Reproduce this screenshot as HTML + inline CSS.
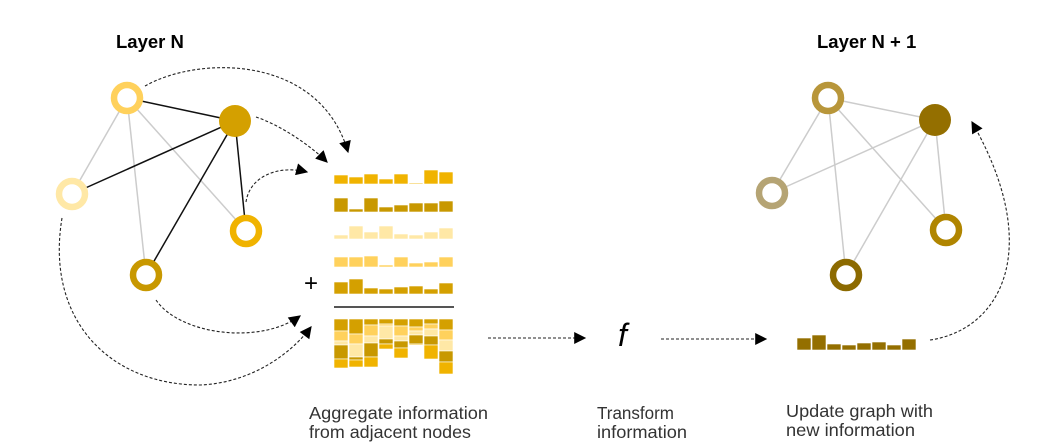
<!DOCTYPE html>
<html><head><meta charset="utf-8"><style>
html,body{margin:0;padding:0;background:#fff;}
svg{display:block;}
text{font-family:"Liberation Sans",sans-serif;}
</style></head><body>
<svg width="1055" height="447" viewBox="0 0 1055 447" xmlns="http://www.w3.org/2000/svg">
<defs>
<marker id="ah" viewBox="0 0 10 10" refX="9" refY="5" markerWidth="13" markerHeight="12" markerUnits="userSpaceOnUse" orient="auto">
<path d="M0,0 L10,5 L0,10 z" fill="#000"/></marker>
</defs>
<text x="116" y="48" font-size="18.5" font-weight="bold">Layer N</text>
<text x="817" y="48" font-size="18.5" font-weight="bold">Layer N + 1</text>

<g stroke="#ccc" stroke-width="1.5">
<line x1="127" y1="98" x2="72" y2="194"/>
<line x1="127" y1="98" x2="146" y2="275"/>
<line x1="127" y1="98" x2="246" y2="231"/>
</g>
<g stroke="#111" stroke-width="1.5">
<line x1="127" y1="98" x2="235" y2="121"/>
<line x1="235" y1="121" x2="72" y2="194"/>
<line x1="235" y1="121" x2="146" y2="275"/>
<line x1="235" y1="121" x2="246" y2="231"/>
</g>
<circle cx="127" cy="98" r="13" fill="#fff" stroke="#FFD15C" stroke-width="6.5"/>
<circle cx="235" cy="121" r="16" fill="#D4A000"/>
<circle cx="72" cy="194" r="13" fill="#fff" stroke="#FFE8A6" stroke-width="6.5"/>
<circle cx="246" cy="231" r="13" fill="#fff" stroke="#F0B300" stroke-width="6.5"/>
<circle cx="146" cy="275" r="13" fill="#fff" stroke="#C89800" stroke-width="6.5"/>

<g fill="none" stroke="#222" stroke-width="1.1" stroke-dasharray="3,2" marker-end="url(#ah)">
<path d="M145,86 C200,55 320,55 348,152"/>
<path d="M256,117 C280,125 310,145 327,162"/>
<path d="M246,202 C250,175 280,165 307,172"/>
<path d="M156,300 C180,335 260,345 300,316"/>
<path d="M62,218 C45,320 110,385 200,385 C250,383 290,355 311,327"/>
<path d="M488,338 L585,338"/>
<path d="M661,339 L766,339"/>
<path d="M930,340 C1000,330 1045,250 972,122"/>
</g>

<g stroke="#fff" stroke-width="0.6">
<g fill="#F0B300">
<rect x="334" y="175" width="14" height="9"/><rect x="349" y="177" width="14" height="7"/><rect x="364" y="174" width="14" height="10"/><rect x="379" y="179" width="14" height="5"/><rect x="394" y="174" width="14" height="10"/><rect x="409" y="183" width="14" height="1"/><rect x="424" y="170" width="14" height="14"/><rect x="439" y="172" width="14" height="12"/>
</g>
<g fill="#C89800">
<rect x="334" y="198" width="14" height="14"/><rect x="349" y="209" width="14" height="3"/><rect x="364" y="198" width="14" height="14"/><rect x="379" y="207" width="14" height="5"/><rect x="394" y="205" width="14" height="7"/><rect x="409" y="203" width="14" height="9"/><rect x="424" y="203" width="14" height="9"/><rect x="439" y="201" width="14" height="11"/>
</g>
<g fill="#FFE8A6">
<rect x="334" y="235" width="14" height="4"/><rect x="349" y="226" width="14" height="13"/><rect x="364" y="232" width="14" height="7"/><rect x="379" y="226" width="14" height="13"/><rect x="394" y="234" width="14" height="5"/><rect x="409" y="235" width="14" height="4"/><rect x="424" y="232" width="14" height="7"/><rect x="439" y="228" width="14" height="11"/>
</g>
<g fill="#FFD15C">
<rect x="334" y="257" width="14" height="10"/><rect x="349" y="257" width="14" height="10"/><rect x="364" y="256" width="14" height="11"/><rect x="379" y="265" width="14" height="2"/><rect x="394" y="257" width="14" height="10"/><rect x="409" y="263" width="14" height="4"/><rect x="424" y="262" width="14" height="5"/><rect x="439" y="257" width="14" height="10"/>
</g>
<g fill="#D4A000">
<rect x="334" y="282" width="14" height="12"/><rect x="349" y="279" width="14" height="15"/><rect x="364" y="288" width="14" height="6"/><rect x="379" y="289" width="14" height="5"/><rect x="394" y="287" width="14" height="7"/><rect x="409" y="286" width="14" height="8"/><rect x="424" y="289" width="14" height="5"/><rect x="439" y="283" width="14" height="11"/>
</g>
</g>
<text x="304" y="291" font-size="24" font-family="Liberation Serif">+</text>
<line x1="334" y1="307" x2="454" y2="307" stroke="#555" stroke-width="2"/>

<g stroke="#fff" stroke-width="0.6">
<rect x="334" y="319" width="14" height="12" fill="#D4A000"/><rect x="334" y="331" width="14" height="10" fill="#FFD15C"/><rect x="334" y="341" width="14" height="4" fill="#FFE8A6"/><rect x="334" y="345" width="14" height="14" fill="#C89800"/><rect x="334" y="359" width="14" height="9" fill="#F0B300"/>
<rect x="349" y="319" width="14" height="15" fill="#D4A000"/><rect x="349" y="334" width="14" height="10" fill="#FFD15C"/><rect x="349" y="344" width="14" height="13" fill="#FFE8A6"/><rect x="349" y="357" width="14" height="3" fill="#C89800"/><rect x="349" y="360" width="14" height="7" fill="#F0B300"/>
<rect x="364" y="319" width="14" height="6" fill="#D4A000"/><rect x="364" y="325" width="14" height="11" fill="#FFD15C"/><rect x="364" y="336" width="14" height="7" fill="#FFE8A6"/><rect x="364" y="343" width="14" height="14" fill="#C89800"/><rect x="364" y="357" width="14" height="10" fill="#F0B300"/>
<rect x="379" y="319" width="14" height="5" fill="#D4A000"/><rect x="379" y="324" width="14" height="2" fill="#FFD15C"/><rect x="379" y="326" width="14" height="13" fill="#FFE8A6"/><rect x="379" y="339" width="14" height="5" fill="#C89800"/><rect x="379" y="344" width="14" height="5" fill="#F0B300"/>
<rect x="394" y="319" width="14" height="7" fill="#D4A000"/><rect x="394" y="326" width="14" height="10" fill="#FFD15C"/><rect x="394" y="336" width="14" height="5" fill="#FFE8A6"/><rect x="394" y="341" width="14" height="7" fill="#C89800"/><rect x="394" y="348" width="14" height="10" fill="#F0B300"/>
<rect x="409" y="319" width="14" height="8" fill="#D4A000"/><rect x="409" y="327" width="14" height="4" fill="#FFD15C"/><rect x="409" y="331" width="14" height="4" fill="#FFE8A6"/><rect x="409" y="335" width="14" height="9" fill="#C89800"/><rect x="409" y="344" width="14" height="1" fill="#F0B300"/>
<rect x="424" y="319" width="14" height="5" fill="#D4A000"/><rect x="424" y="324" width="14" height="5" fill="#FFD15C"/><rect x="424" y="329" width="14" height="7" fill="#FFE8A6"/><rect x="424" y="336" width="14" height="9" fill="#C89800"/><rect x="424" y="345" width="14" height="14" fill="#F0B300"/>
<rect x="439" y="319" width="14" height="11" fill="#D4A000"/><rect x="439" y="330" width="14" height="10" fill="#FFD15C"/><rect x="439" y="340" width="14" height="11" fill="#FFE8A6"/><rect x="439" y="351" width="14" height="11" fill="#C89800"/><rect x="439" y="362" width="14" height="12" fill="#F0B300"/>
</g>

<text x="618" y="346" font-size="32" font-style="italic" font-family="Liberation Serif">f</text>

<g stroke="#ccc" stroke-width="1.5">
<line x1="828" y1="98" x2="772" y2="193"/>
<line x1="828" y1="98" x2="846" y2="275"/>
<line x1="828" y1="98" x2="946" y2="230"/>
<line x1="828" y1="98" x2="935" y2="120"/>
<line x1="935" y1="120" x2="772" y2="193"/>
<line x1="935" y1="120" x2="846" y2="275"/>
<line x1="935" y1="120" x2="946" y2="230"/>
</g>
<circle cx="828" cy="98" r="13" fill="#fff" stroke="#B8963A" stroke-width="6.5"/>
<circle cx="935" cy="120" r="16" fill="#946F00"/>
<circle cx="772" cy="193" r="13" fill="#fff" stroke="#B5A474" stroke-width="6.5"/>
<circle cx="946" cy="230" r="13" fill="#fff" stroke="#B08500" stroke-width="6.5"/>
<circle cx="846" cy="275" r="13" fill="#fff" stroke="#8C6A00" stroke-width="6.5"/>

<g fill="#946F00" stroke="#fff" stroke-width="0.6">
<rect x="797" y="338" width="14" height="12"/><rect x="812" y="335" width="14" height="15"/><rect x="827" y="344" width="14" height="6"/><rect x="842" y="345" width="14" height="5"/><rect x="857" y="343" width="14" height="7"/><rect x="872" y="342" width="14" height="8"/><rect x="887" y="345" width="14" height="5"/><rect x="902" y="339" width="14" height="11"/>
</g>

<g font-size="17.5" fill="#333">
<text x="309" y="419" textLength="179" lengthAdjust="spacingAndGlyphs">Aggregate information</text>
<text x="309" y="438" textLength="162" lengthAdjust="spacingAndGlyphs">from adjacent nodes</text>
<text x="597" y="419" textLength="77" lengthAdjust="spacingAndGlyphs">Transform</text>
<text x="597" y="438" textLength="90" lengthAdjust="spacingAndGlyphs">information</text>
<text x="786" y="417" textLength="147" lengthAdjust="spacingAndGlyphs">Update graph with</text>
<text x="786" y="436" textLength="129" lengthAdjust="spacingAndGlyphs">new information</text>
</g>
</svg>
</body></html>
